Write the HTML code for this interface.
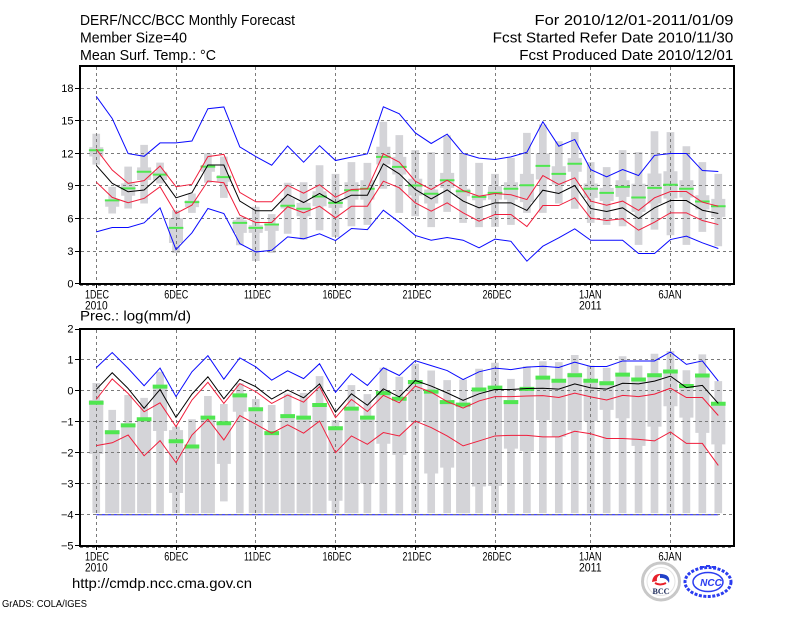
<!DOCTYPE html>
<html><head><meta charset="utf-8">
<style>
html,body{margin:0;padding:0;background:#fff;width:800px;height:618px;overflow:hidden}
svg{display:block}
text{font-family:"Liberation Sans",sans-serif;fill:#000}
</style></head>
<body>
<svg width="800" height="618" viewBox="0 0 800 618">
<rect x="0" y="0" width="800" height="618" fill="#fff"/>

<!-- Header text -->
<text x="80" y="25" font-size="15" textLength="215" lengthAdjust="spacingAndGlyphs">DERF/NCC/BCC Monthly Forecast</text>
<text x="80" y="42.5" font-size="15" textLength="107" lengthAdjust="spacingAndGlyphs">Member Size=40</text>
<text x="80" y="60" font-size="15" textLength="136" lengthAdjust="spacingAndGlyphs">Mean Surf. Temp.: °C</text>
<text x="534.5" y="25" font-size="15" textLength="199" lengthAdjust="spacingAndGlyphs">For 2010/12/01-2011/01/09</text>
<text x="492.7" y="42.5" font-size="15" textLength="240.6" lengthAdjust="spacingAndGlyphs">Fcst Started Refer Date 2010/11/30</text>
<text x="519.3" y="60" font-size="15" textLength="214" lengthAdjust="spacingAndGlyphs">Fcst Produced Date 2010/12/01</text>

<!-- ============ TOP PANEL ============ -->
<g transform="translate(80.3 283.7) scale(15.95 -10.87)" fill="none">
<path stroke="#d4d4d8" stroke-width=".48" d="M1 10.95V13.8M2 6.46V8.92M3 6.92V10.77M4 7.38V12.77M5 9.23V11.14M6 2.83V6.77M7 6.52V8.3M8 9.29V12M9 7.9V11.69M10 3.54V6.15M11 2.09V7.08M12 2.83V6.4M13 4.6V9.29M14 4.06V9.33M15 4.92V10.9M16 4.31V10.1M17 5.29V11.18M18 5.41V11.12M19 8.73V14.9M20 6.52V13.67M21 6.21V12.29M22 5.2V12.1M23 6.61V13.64M24 5.6V11.98M25 5.2V11.12M26 5.23V10.1M27 5.41V11.58M28 6.52V13.88M29 6.52V14.65M30 7.38V13.1M31 6.89V13.94M32 5.6V11.18M33 5.41V10.72M34 5.29V12.29M35 3.57V12.1M36 4.98V14.03M37 4.46V13.94M38 3.57V12.65M39 4.77V11.18M40 3.45V10.1"/>
<path stroke="#d4d4d8" stroke-width=".88" d="M1 11.7V12.55M2 7.08V7.75M3 8.09V9.23M4 9.54V10.7M5 9.54V10.3M6 3.75V6.03M7 7.05V7.66M8 10.3V10.92M9 9.38V10M10 4.68V5.85M11 4.68V5.38M12 4.86V5.54M13 6.92V7.85M14 6.21V7.44M15 7.13V8.5M16 6.98V7.8M17 7.74V9.33M18 7.74V9.52M19 10.97V12.6M20 10.05V11.67M21 8.11V9.65M22 7.38V8.67M23 8.82V10.2M24 8.05V8.73M25 7.68V8.2M26 7.74V8.97M27 7.74V9.33M28 7.5V10.1M29 9.59V11.98M30 9.13V10.8M31 10.3V11.55M32 7.9V9.22M33 7.6V8.82M34 7.99V9.52M35 6.61V9.19M36 7.38V10.14M37 7.84V10.35M38 7.93V9.52M39 6.83V8.14M40 6.15V7.8"/>
</g>

<!-- top grid -->
<g stroke="#7a7a7a" stroke-width="1" stroke-dasharray="3 3" fill="none" shape-rendering="crispEdges">
<path d="M81 88.5H733M81 120.5H733M81 153.5H733M81 185.5H733M81 218.5H733M81 251.5H733"/>
<path d="M96.5 67V283M176.5 67V283M255.5 67V283M335.5 67V283M415.5 67V283M495.5 67V283M590.5 67V283M670.5 67V283"/>
<path d="M80 285.5H734"/>
</g>

<g transform="translate(80.3 283.7) scale(15.95 -10.87)" fill="none">
<path stroke="#50e650" stroke-width=".184" d="M.54 12.28h.92M1.54 7.66h.92M2.54 8.77h.92M3.54 10.3h.92M4.54 10.03h.92M5.54 5.14h.92M6.54 7.5h.92M7.54 10.77h.92M8.54 9.8h.92M9.54 5.6h.92M10.54 5.14h.92M11.54 5.45h.92M12.54 7.17h.92M13.54 6.89h.92M14.54 8.02h.92M15.54 7.44h.92M16.54 8.6h.92M17.54 8.73h.92M18.54 11.67h.92M19.54 10.75h.92M20.54 9.03h.92M21.54 8.27h.92M22.54 9.52h.92M23.54 8.51h.92M24.54 7.99h.92M25.54 8.36h.92M26.54 8.73h.92M27.54 9.06h.92M28.54 10.84h.92M29.54 10.1h.92M30.54 11.03h.92M31.54 8.73h.92M32.54 8.36h.92M33.54 8.91h.92M34.54 7.93h.92M35.54 8.82h.92M36.54 9.1h.92M37.54 8.73h.92M38.54 7.56h.92M39.54 7.13h.92"/>
<polyline vector-effect="non-scaling-stroke" stroke="#0a0aff" stroke-width="1" points="1,17.24 2,15.2 3,11.97 4,11.72 5,12.95 6,12.95 7,13.13 8,16.1 9,16.26 10,12.58 11,11.7 12,10.9 13,12.67 14,11.18 15,12.7 16,11.33 17,11.64 18,11.95 19,16.27 20,15.63 21,13.88 22,12.9 23,13.76 24,11.98 25,11.55 26,11.43 27,11.67 28,12.1 29,14.9 30,12.65 31,13.27 32,10.5 33,9.83 34,10.5 35,9.95 36,11.8 37,11.98 38,11.98 39,10.41 40,10.32"/>
<polyline vector-effect="non-scaling-stroke" stroke="#0a0aff" stroke-width="1" points="1,4.77 2,5.17 3,5.17 4,5.6 5,6.98 6,3.14 7,4.68 8,6.92 9,6.46 10,3.69 11,2.92 12,3.08 13,4.31 14,4.13 15,4.59 16,3.97 17,5.08 18,4.98 19,6.76 20,5.66 21,4.44 22,4 23,4.25 24,4 25,3.3 26,4.1 27,3.9 28,2.07 29,3.45 30,4.22 31,5.05 32,4 33,4 34,4 35,2.78 36,2.78 37,4.06 38,4.37 39,3.76 40,3.24"/>
<polyline vector-effect="non-scaling-stroke" stroke="#f01e3c" stroke-width="1" points="1,12.37 2,10.46 3,9.23 4,9.48 5,10.83 6,8.92 7,9.14 8,11.69 9,11.9 10,8.4 11,7.54 12,7.54 13,9.05 14,8.33 15,9.1 16,7.96 17,8.67 18,8.73 19,11.95 20,11.18 21,9.43 22,8.67 23,9.52 24,8.57 25,8.05 26,8.3 27,8.18 28,7.74 29,9.95 30,9.13 31,9.74 32,7.6 33,7.22 34,7.6 35,6.74 36,7.9 37,8.48 38,8.48 39,7.5 40,7.13"/>
<polyline vector-effect="non-scaling-stroke" stroke="#f01e3c" stroke-width="1" points="1,9.35 2,7.94 3,7.45 4,7.85 5,8.92 6,6.46 7,7.23 8,9.45 9,9.29 10,6.31 11,5.63 12,5.63 13,7.08 14,6.52 15,7.13 16,6.06 17,7.13 18,7.13 19,9.43 20,8.82 21,7.44 22,6.67 23,7.44 24,6.52 25,5.75 26,6.37 27,6.37 28,5.26 29,7.19 30,7.19 31,7.9 32,6.03 33,5.81 34,5.97 35,4.92 36,5.66 37,6.52 38,6.52 39,5.81 40,5.44"/>
<polyline vector-effect="non-scaling-stroke" stroke="#000" stroke-width="1" points="1,10.89 2,9.23 3,8.46 4,8.62 5,9.94 6,7.9 7,8.37 8,10.92 9,10.92 10,7.6 11,6.71 12,6.71 13,8.22 14,7.47 15,8.3 16,7.44 17,8.14 18,8.14 19,11.03 20,10.1 21,8.67 22,7.8 23,8.63 24,7.6 25,6.98 26,7.44 27,7.44 28,6.74 29,8.6 30,8.3 31,9.03 32,6.92 33,6.64 34,6.98 35,6 36,6.98 37,7.65 38,7.65 39,6.76 40,6.46"/>
</g>

<!-- top frame & ticks -->
<rect x="80" y="66" width="654" height="218" fill="none" stroke="#000" stroke-width="2"/>
<g stroke="#000" stroke-width="1" fill="none" shape-rendering="crispEdges">
<path d="M75 88.5H80M75 120.5H80M75 153.5H80M75 185.5H80M75 218.5H80M75 251.5H80M75 283.5H80"/>
<path d="M96.5 284V288M176.5 284V288M255.5 284V288M335.5 284V288M415.5 284V288M495.5 284V288M590.5 284V288M670.5 284V288"/>
</g>

<g font-size="11" text-anchor="end">
<text x="73.5" y="92">18</text>
<text x="73.5" y="124.7">15</text>
<text x="73.5" y="157.3">12</text>
<text x="73.5" y="189.9">9</text>
<text x="73.5" y="222.5">6</text>
<text x="73.5" y="255.1">3</text>
<text x="73.5" y="287.7">0</text>
</g>
<g font-size="11.5" text-anchor="middle">
<text x="97" y="298.5" textLength="24" lengthAdjust="spacingAndGlyphs">1DEC</text>
<text x="96.3" y="309.5" textLength="22.7" lengthAdjust="spacingAndGlyphs">2010</text>
<text x="176.3" y="298.5" textLength="24" lengthAdjust="spacingAndGlyphs">6DEC</text>
<text x="257.5" y="298.5" textLength="27" lengthAdjust="spacingAndGlyphs">11DEC</text>
<text x="337" y="298.5" textLength="29" lengthAdjust="spacingAndGlyphs">16DEC</text>
<text x="417" y="298.5" textLength="29" lengthAdjust="spacingAndGlyphs">21DEC</text>
<text x="497" y="298.5" textLength="29" lengthAdjust="spacingAndGlyphs">26DEC</text>
<text x="590.3" y="298.5" textLength="22.7" lengthAdjust="spacingAndGlyphs">1JAN</text>
<text x="590.3" y="309.5" textLength="22.7" lengthAdjust="spacingAndGlyphs">2011</text>
<text x="670" y="298.5" textLength="23.3" lengthAdjust="spacingAndGlyphs">6JAN</text>
</g>

<text x="80" y="320.5" font-size="14" textLength="111" lengthAdjust="spacingAndGlyphs">Prec.: log(mm/d)</text>

<!-- ============ LOWER PANEL ============ -->
<g transform="translate(80.3 390.7) scale(15.95 -31)" fill="none">
<path stroke="#d4d4d8" stroke-width=".48" d="M1 -3.95V.25M2 -3.95V-.62M3 -3.95V-.14M4 -3.95V-.23M5 -3.95V.61M6 -3.95V-1.16M7 -3.95V-.92M8 -3.95V-.17M9 -3.57V-.43M10 -3.95V.24M11 -3.95V-.27M12 -3.95V-.46M13 -3.95V-.09M14 -3.95V-.07M15 -3.95V.47M16 -3.95V-.95M17 -3.95V.18M18 -3.95V-.11M19 -3.95V.74M20 -3.95V.45M21 -3.95V.87M22 -3.95V.65M23 -3.95V.34M24 -3.95V.36M25 -3.95V.71M26 -3.95V.9M27 -3.95V.38M28 -3.95V.79M29 -3.95V.95M30 -3.95V.92M31 -3.95V1.15M32 -3.95V.81M33 -3.95V.74M34 -3.95V1.11M35 -3.95V.81M36 -3.95V1.19M37 -3.95V1.28M38 -3.95V.66M39 -3.95V1.17M40 -3.95V.31"/>
<path stroke="#d4d4d8" stroke-width=".88" d="M1 -2.04V-.3M2 -3.95V-1.27M3 -3.95V-1.05M4 -3.95V-.89M5 -1.3V.15M6 -3.3V-1.27M7 -3.95V-1.8M8 -3.95V-.84M9 -2.36V-1.05M10 -.68V-.11M11 -3.95V-.57M12 -3.95V-1.34M13 -3.95V-.78M14 -3.95V-.82M15 -3.95V-.44M16 -3.55V-1.19M17 -3.95V-.55M18 -3V-.82M19 -1.71V-.01M20 -2.07V-.21M21 -1V.31M22 -2.67V.01M23 -2.48V-.3M24 -3.95V-.39M25 -3.09V.09M26 -3.07V.15M27 -1.87V-.3M28 -1.95V.09M29 -.95V.47M30 -1.49V.36M31 -1.28V.58M32 -.98V.36M33 -.62V.31M34 -.89V.56M35 -1.78V.42M36 -1.16V.55M37 -.5V.65M38 -.87V.2M39 -1.36V.52M40 -1.73V-.37"/>
<polyline vector-effect="non-scaling-stroke" stroke="#0a0aff" stroke-width="1" points="1,-4 40,-4"/>
</g>

<!-- lower grid -->
<g stroke="#7a7a7a" stroke-width="1" stroke-dasharray="3 3" fill="none" shape-rendering="crispEdges">
<path d="M81 359.5H733M81 390.5H733M81 421.5H733M81 452.5H733M81 483.5H733M81 514.5H733"/>
<path d="M96.5 330V545M176.5 330V545M255.5 330V545M335.5 330V545M415.5 330V545M495.5 330V545M590.5 330V545M670.5 330V545"/>
<path d="M80 547.5H734"/>
</g>

<g transform="translate(80.3 390.7) scale(15.95 -31)" fill="none">
<path stroke="#50e650" stroke-width=".129" d="M.54 -.39h.92M1.54 -1.34h.92M2.54 -1.12h.92M3.54 -.92h.92M4.54 .13h.92M5.54 -1.63h.92M6.54 -1.8h.92M7.54 -.87h.92M8.54 -1.05h.92M9.54 -.15h.92M10.54 -.6h.92M11.54 -1.37h.92M12.54 -.82h.92M13.54 -.87h.92M14.54 -.46h.92M15.54 -1.21h.92M16.54 -.58h.92M17.54 -.87h.92M18.54 -.08h.92M19.54 -.26h.92M20.54 .28h.92M21.54 -.03h.92M22.54 -.37h.92M23.54 -.45h.92M24.54 .04h.92M25.54 .1h.92M26.54 -.37h.92M27.54 .06h.92M28.54 .42h.92M29.54 .32h.92M30.54 .5h.92M31.54 .32h.92M32.54 .24h.92M33.54 .52h.92M34.54 .36h.92M35.54 .5h.92M36.54 .62h.92M37.54 .15h.92M38.54 .49h.92M39.54 -.42h.92"/>
<polyline vector-effect="non-scaling-stroke" stroke="#0a0aff" stroke-width="1" points="1,.74 2,1.23 3,.72 4,.16 5,.73 6,-.19 7,.61 8,1.13 9,.37 10,1.06 11,.77 12,.34 13,.64 14,.39 15,.87 16,-.05 17,.55 18,.17 19,.74 20,.49 21,.97 22,.81 23,.65 24,.36 25,.61 26,.73 27,.68 28,.76 29,.79 30,.75 31,.92 32,.78 33,.78 34,.96 35,.96 36,.96 37,1.25 38,.85 39,.96 40,.31"/>
<polyline vector-effect="non-scaling-stroke" stroke="#f01e3c" stroke-width="1" points="1,-.28 2,.38 3,-.09 4,-.68 5,-.39 6,-1.16 7,-.3 8,.27 9,-.41 10,.23 11,-.03 12,-.41 13,-.14 14,-.37 15,.13 16,-.87 17,-.28 18,-.67 19,-.15 20,-.39 21,.15 22,-.05 23,-.35 24,-.56 25,-.33 26,-.19 27,-.19 28,-.17 29,-.16 30,-.22 31,-.08 32,-.2 33,-.3 34,-.15 35,-.19 36,-.11 37,.08 38,-.22 39,-.22 40,-.8"/>
<polyline vector-effect="non-scaling-stroke" stroke="#f01e3c" stroke-width="1" points="1,-1.77 2,-1.68 3,-1.43 4,-2.1 5,-1.61 6,-2.32 7,-1.43 8,-.92 9,-1.59 10,-.8 11,-1.08 12,-1.37 13,-1.1 14,-1.37 15,-.98 16,-2 17,-1.46 18,-1.73 19,-1.35 20,-1.46 21,-.98 22,-1.19 23,-1.46 24,-1.78 25,-1.62 26,-1.46 27,-1.44 28,-1.44 29,-1.49 30,-1.49 31,-1.31 32,-1.39 33,-1.54 34,-1.54 35,-1.57 36,-1.62 37,-1.33 38,-1.7 39,-1.7 40,-2.41"/>
<polyline vector-effect="non-scaling-stroke" stroke="#000" stroke-width="1" points="1,.04 2,.58 3,.07 4,-.57 5,.04 6,-.86 7,-.11 8,.45 9,-.26 10,.37 11,.13 12,-.27 13,.02 14,-.23 15,.22 16,-.69 17,-.1 18,-.47 19,.06 20,-.2 21,.33 22,.15 23,-.07 24,-.31 25,-.1 26,.04 27,.04 28,.07 29,.08 30,.05 31,.22 32,.09 33,.05 34,.24 35,.22 36,.31 37,.47 38,.1 39,.17 40,-.41"/>
</g>

<!-- lower frame & ticks -->
<rect x="80" y="329" width="654" height="217" fill="none" stroke="#000" stroke-width="2"/>
<g stroke="#000" stroke-width="1" fill="none" shape-rendering="crispEdges">
<path d="M75 329.5H80M75 359.5H80M75 390.5H80M75 421.5H80M75 452.5H80M75 483.5H80M75 514.5H80M75 545.5H80"/>
<path d="M96.5 546V550M176.5 546V550M255.5 546V550M335.5 546V550M415.5 546V550M495.5 546V550M590.5 546V550M670.5 546V550"/>
</g>

<g font-size="11" text-anchor="end">
<text x="73.5" y="332.7">2</text>
<text x="73.5" y="363.7">1</text>
<text x="73.5" y="394.7">0</text>
<text x="73.5" y="425.7">−1</text>
<text x="73.5" y="456.7">−2</text>
<text x="73.5" y="487.7">−3</text>
<text x="73.5" y="518.7">−4</text>
<text x="73.5" y="549.7">−5</text>
</g>
<g font-size="11.5" text-anchor="middle">
<text x="97" y="560.7" textLength="24" lengthAdjust="spacingAndGlyphs">1DEC</text>
<text x="96.3" y="571.7" textLength="22.7" lengthAdjust="spacingAndGlyphs">2010</text>
<text x="176.3" y="560.7" textLength="24" lengthAdjust="spacingAndGlyphs">6DEC</text>
<text x="257.5" y="560.7" textLength="27" lengthAdjust="spacingAndGlyphs">11DEC</text>
<text x="337" y="560.7" textLength="29" lengthAdjust="spacingAndGlyphs">16DEC</text>
<text x="417" y="560.7" textLength="29" lengthAdjust="spacingAndGlyphs">21DEC</text>
<text x="497" y="560.7" textLength="29" lengthAdjust="spacingAndGlyphs">26DEC</text>
<text x="590.3" y="560.7" textLength="22.7" lengthAdjust="spacingAndGlyphs">1JAN</text>
<text x="590.3" y="571.7" textLength="22.7" lengthAdjust="spacingAndGlyphs">2011</text>
<text x="670" y="560.7" textLength="23.3" lengthAdjust="spacingAndGlyphs">6JAN</text>
</g>

<!-- footer -->
<text x="72" y="588" font-size="14" textLength="180" lengthAdjust="spacingAndGlyphs">http://cmdp.ncc.cma.gov.cn</text>
<text x="2" y="607" font-size="10" textLength="85" lengthAdjust="spacingAndGlyphs">GrADS: COLA/IGES</text>

<!-- BCC logo -->
<g>
<circle cx="661" cy="581.5" r="18.5" fill="#fff" stroke="#c8c8c8" stroke-width="3"/>
<circle cx="661" cy="581.5" r="14" fill="none" stroke="#e4e4e4" stroke-width="1"/>
<path d="M652 582 q1 -9 10 -8 q-6 2 -5 7" fill="#e8202a"/>
<path d="M660 574 q11 0 9 9 q-3 -6 -9 -5" fill="#2040c8"/>
<path d="M655 583 q5 3 11 0" fill="none" stroke="#e8202a" stroke-width="2"/>
<text x="661" y="594" font-size="8" text-anchor="middle" font-weight="bold" style="font-family:'Liberation Serif',serif;fill:#1c2a5a">BCC</text>
</g>
<!-- NCC logo -->
<g>
<ellipse cx="708" cy="582" rx="23" ry="14.5" fill="none" stroke="#2a3cf0" stroke-width="3" stroke-dasharray="3 1.5"/>
<ellipse cx="708" cy="582" rx="15" ry="9.5" fill="none" stroke="#2a3cf0" stroke-width="1.5"/>
<path d="M700 567 h4 M706 566 h4 M712 567 h4" stroke="#2a3cf0" stroke-width="2"/>
<text x="711" y="586" font-size="10" text-anchor="middle" font-weight="bold" font-style="italic" style="fill:#2a3cf0">NCC</text>
</g>
</svg>
</body></html>
